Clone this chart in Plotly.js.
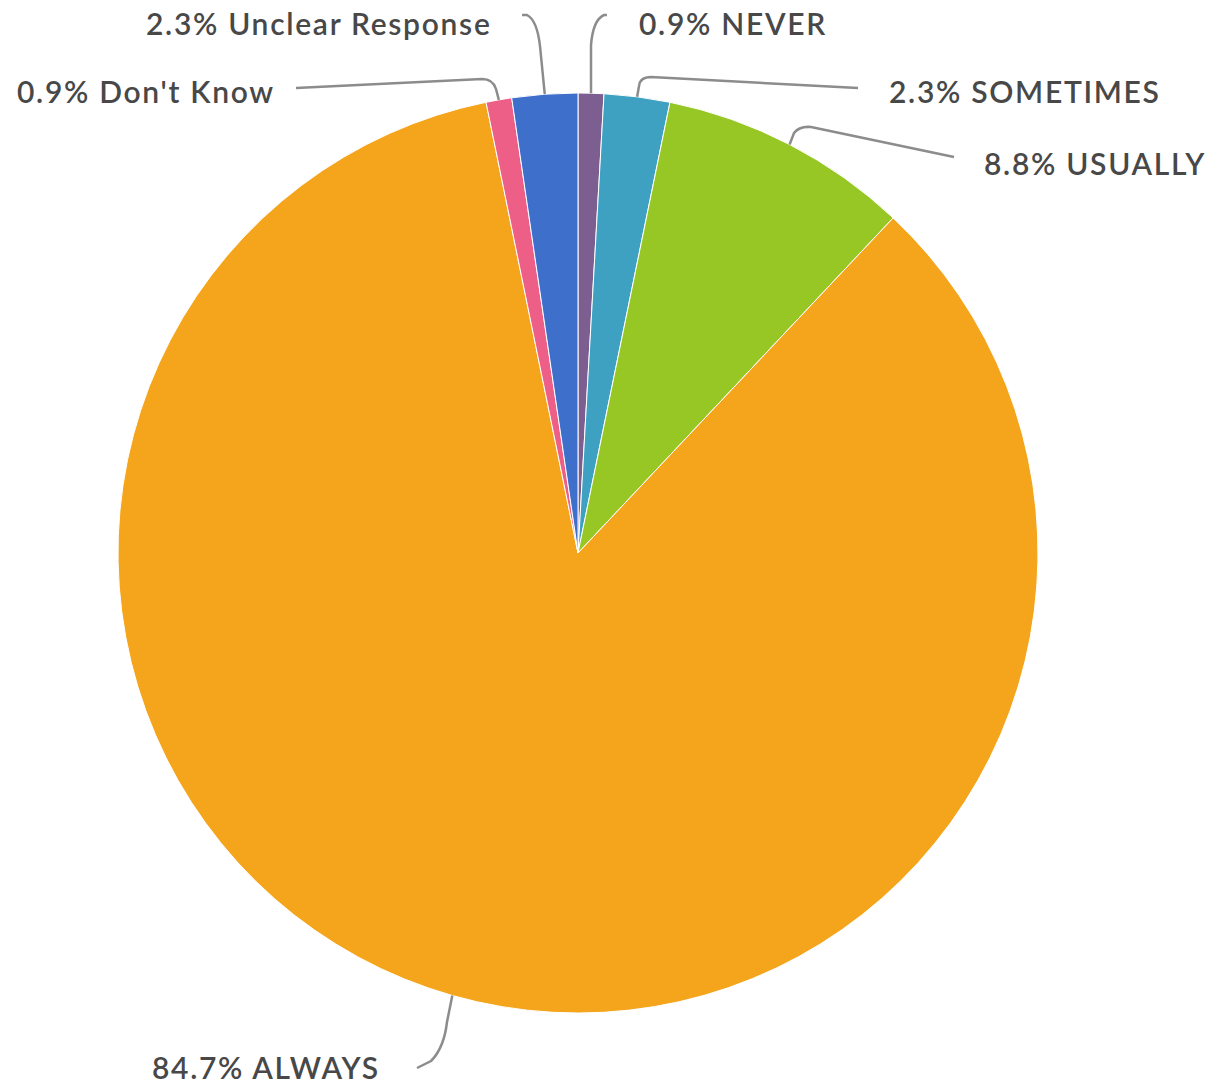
<!DOCTYPE html>
<html>
<head>
<meta charset="utf-8">
<script src="https://cdn.plot.ly/plotly-3.0.1.min.js"></script>
<style>
  html, body { margin: 0; padding: 0; background: #ffffff; }
  #chart { width: 1217px; height: 1086px; }
  text.annotation-text { letter-spacing: 1.7px; }
</style>
</head>
<body>
<div id="chart"></div>
<script>
// Survey answers, clockwise from 12 o'clock
const categories = ["NEVER", "SOMETIMES", "USUALLY", "ALWAYS", "Don't Know", "Unclear Response"];
const percents = [0.9, 2.3, 8.8, 84.7, 0.9, 2.3];
const sliceColors = ["#7c5e90", "#3fa1c2", "#96c724", "#f4a51b", "#ee5f87", "#3e6fcb"];

const W = 1217, H = 1086;
// Pie geometry in pixels
const CX = 578, CY = 553, R = 460;

// Label anchors (pixels) and connector bend points, one per slice
const labelAnchor = [
  { x: 637, y: 23, align: "left" },
  { x: 887, y: 91, align: "left" },
  { x: 982, y: 163, align: "left" },
  { x: 150, y: 1067, align: "left" },
  { x: 15, y: 91, align: "left" },
  { x: 494, y: 23, align: "right" }
];
const connectorBends = [
  [[591, 45], [593, 20], [604, 15], [607, 15]],
  [[639, 86], [640, 77], [651, 77], [858, 88]],
  [[794, 133], [799, 126], [811, 127], [954, 157]],
  [[447, 1022], [444, 1048], [431, 1061], [417, 1068]],
  [[496, 89], [493, 79], [482, 79], [296, 88]],
  [[540, 46], [537, 20], [527, 15], [522, 15]]
];

const px = x => x / W;
const py = y => 1 - y / H;

const total = percents.reduce((a, b) => a + b, 0);
let cum = 0;
const shapes = [];
const annotations = [];
percents.forEach((p, i) => {
  const mid = (cum + p / 2) / total * 2 * Math.PI;
  cum += p;
  const sx = CX + R * Math.sin(mid);
  const sy = CY - R * Math.cos(mid);
  const [a, c, b, e] = connectorBends[i];
  const path = `M ${px(sx)} ${py(sy)} L ${px(a[0])} ${py(a[1])} Q ${px(c[0])} ${py(c[1])} ${px(b[0])} ${py(b[1])} L ${px(e[0])} ${py(e[1])}`;
  shapes.push({
    type: "path", xref: "paper", yref: "paper", path: path,
    line: { color: "#8c8c8c", width: 2.5 }
  });
  const la = labelAnchor[i];
  annotations.push({
    xref: "paper", yref: "paper",
    x: px(la.x), y: py(la.y),
    xanchor: la.align, yanchor: "middle",
    showarrow: false,
    text: `${p}% ${categories[i]}`,
    font: { family: "Lato, 'Open Sans', sans-serif", size: 30, color: "#484848", weight: 600 }
  });
});

const trace = {
  type: "pie",
  labels: categories,
  values: percents,
  sort: false,
  direction: "clockwise",
  rotation: 0,
  textinfo: "none",
  hoverinfo: "label+percent",
  marker: { colors: sliceColors, line: { color: "#ffffff", width: 1 } },
  domain: { x: [(CX - R) / W, (CX + R) / W], y: [py(CY + R), py(CY - R)] }
};

const layout = {
  width: W, height: H,
  margin: { l: 0, r: 0, t: 0, b: 0 },
  paper_bgcolor: "#ffffff",
  showlegend: false,
  shapes: shapes,
  annotations: annotations
};

Plotly.newPlot("chart", [trace], layout, { displayModeBar: false, staticPlot: true });
</script>
</body>
</html>
